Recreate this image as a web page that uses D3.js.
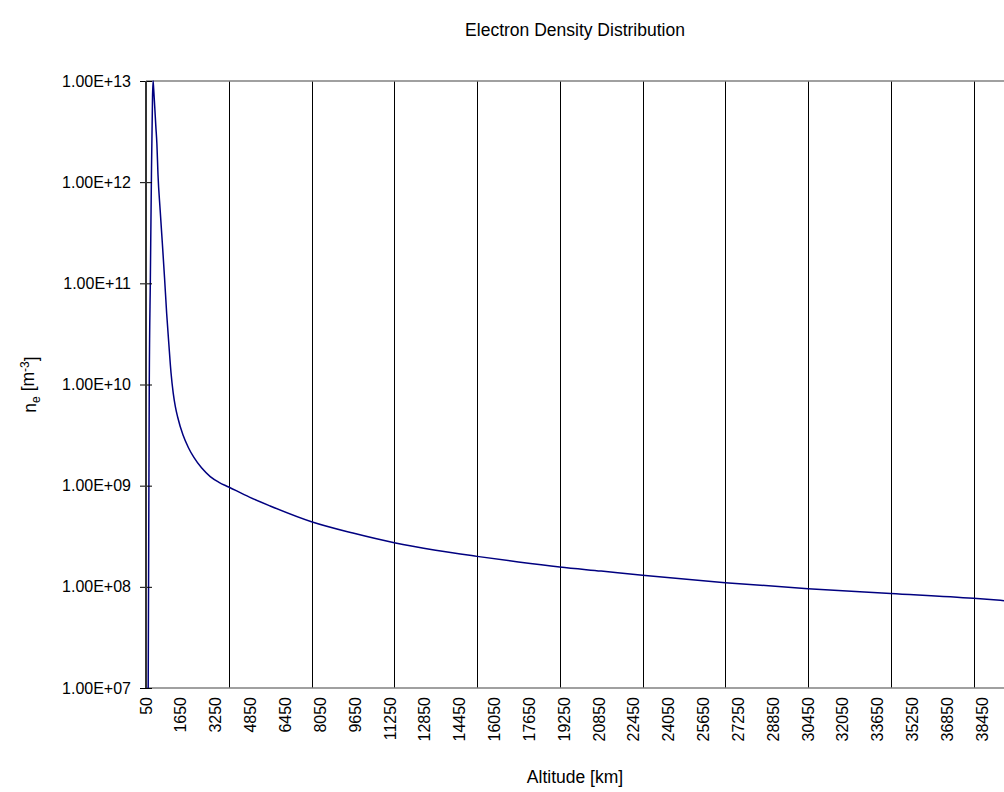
<!DOCTYPE html>
<html>
<head>
<meta charset="utf-8">
<script src="https://cdn.jsdelivr.net/npm/d3@7"></script>
<style>
    body { margin: 0; background: #fff; }
    text { font-family: 'Liberation Sans', Arial, sans-serif; fill: #000; }
    .tick text { font-size: 16px; }
    .grid { stroke: #000; stroke-width: 1; shape-rendering: crispEdges; }
    .border { stroke: #808080; stroke-width: 1.5; fill: none; }
</style>
</head>
<body>
<div id="chart"></div>
<script>
// altitude [km] and electron density [m^-3]
var altitudeKm = [50, 100, 150, 200, 250, 300, 350, 375, 400, 450, 500, 550, 600, 700, 800, 900,
    1000, 1100, 1200, 1300, 1400, 1500, 1750, 2000, 2250, 2600, 3000, 3400, 3850, 4800, 5750, 7650,
    9550, 11450, 13350, 15250, 17150, 19050, 20950, 22850, 26650, 30450, 34250, 38050, 39450];
var density = [1e5, 1e6, 9e6, 1.0e10, 1.1e11, 1.2e12, 7.0e12, 1.0e13, 8.5e12, 5.6e12, 3.6e12, 2.4e12, 1.2e12, 5.3e11, 2.5e11, 1.15e11,
    5.0e10, 2.5e10, 1.3e10, 8.2e9, 6.0e9, 4.8e9, 3.16e9, 2.37e9, 1.9e9, 1.5e9, 1.23e9, 1.08e9, 9.7e8, 7.7e8, 6.3e8, 4.4e8,
    3.4e8, 2.73e8, 2.3e8, 2.0e8, 1.76e8, 1.57e8, 1.43e8, 1.3e8, 1.1e8, 9.6e7, 8.6e7, 7.7e7, 7.3e7];

var xTickLabels = [50, 1650, 3250, 4850, 6450, 8050, 9650, 11250, 12850, 14450, 16050, 17650, 19250,
    20850, 22450, 24050, 25650, 27250, 28850, 30450, 32050, 33650, 35250, 36850, 38450];
var gridAltitudes = [3850, 7650, 11450, 15250, 19050, 22850, 26650, 30450, 34250, 38050];
var yTickValues = [1e7, 1e8, 1e9, 1e10, 1e11, 1e12, 1e13];

var margin = { top: 81, left: 146, bottom: 104, right: 0 },
    width = 1004 - margin.left - margin.right,
    height = 792 - margin.top - margin.bottom;

var svg = d3.select('#chart').append('svg')
    .attr('width', 1004)
    .attr('height', 792);

var g = svg.append('g')
    .attr('transform', 'translate(' + margin.left + ',' + margin.top + ')');

var x = d3.scaleLinear().domain([50, 39450]).range([0, width]);
var y = d3.scaleLog().domain([1e7, 1e13]).range([height, 0]);

var data = altitudeKm.map((d, i) => ({ alt: d, ne: density[i] }));

// vertical gridlines
g.selectAll('.grid')
    .data(gridAltitudes)
    .enter()
    .append('line')
    .attr('class', 'grid')
    .attr('x1', d => Math.round(x(d)) + 0.5)
    .attr('x2', d => Math.round(x(d)) + 0.5)
    .attr('y1', 0)
    .attr('y2', height);

// plot border (top / bottom)
g.append('line').attr('class', 'border')
    .attr('x1', 0).attr('x2', width).attr('y1', 0).attr('y2', 0);
g.append('line').attr('class', 'border')
    .attr('x1', 0).attr('x2', width).attr('y1', height).attr('y2', height);

// the curve
g.append('clipPath').attr('id', 'clip')
    .append('rect').attr('x', 0).attr('y', -2).attr('width', width).attr('height', height + 2);

var line = d3.line()
    .x(d => x(d.alt))
    .y(d => y(d.ne))
    .curve(d3.curveMonotoneX);

g.append('path')
    .datum(data)
    .attr('clip-path', 'url(#clip)')
    .attr('fill', 'none')
    .attr('stroke', '#000080')
    .attr('stroke-width', 1.5)
    .attr('d', line);

// y axis
var yAxis = d3.axisLeft(y)
    .tickValues(yTickValues)
    .tickSize(12)
    .tickPadding(9)
    .tickFormat(d => '1.00E+' + d3.format('02')(Math.round(Math.log10(d))));

g.append('g')
    .attr('transform', 'translate(6,0)')
    .call(yAxis)
    .call(a => a.select('.domain').remove())
    .call(a => a.selectAll('line').attr('stroke', '#000'));

g.append('line')
    .attr('x1', 0).attr('x2', 0).attr('y1', 0).attr('y2', height)
    .attr('stroke', '#333').attr('stroke-width', 2);

// x axis labels (rotated)
g.selectAll('.xlabel')
    .data(xTickLabels)
    .enter()
    .append('text')
    .attr('class', 'xlabel')
    .attr('transform', d => 'translate(' + x(d) + ',' + (height + 9) + ') rotate(-90)')
    .attr('dy', '0.35em')
    .attr('text-anchor', 'end')
    .style('font-size', '16px')
    .text(d => d);

// titles
svg.append('text')
    .attr('x', margin.left + width / 2)
    .attr('y', 36)
    .attr('text-anchor', 'middle')
    .style('font-size', '17.5px')
    .text('Electron Density Distribution');

svg.append('text')
    .attr('x', margin.left + width / 2)
    .attr('y', 783)
    .attr('text-anchor', 'middle')
    .style('font-size', '17.5px')
    .text('Altitude [km]');

var ylab = svg.append('text')
    .attr('transform', 'translate(36,' + (margin.top + height / 2) + ') rotate(-90)')
    .attr('text-anchor', 'middle')
    .style('font-size', '17.5px');
ylab.append('tspan').text('n');
ylab.append('tspan').attr('dy', '0.3em').style('font-size', '12px').text('e');
ylab.append('tspan').attr('dy', '-0.3em').text(' [m');
ylab.append('tspan').attr('dy', '-0.45em').style('font-size', '12px').text('-3');
ylab.append('tspan').attr('dy', '0.45em').text(']');
</script>
</body>
</html>
